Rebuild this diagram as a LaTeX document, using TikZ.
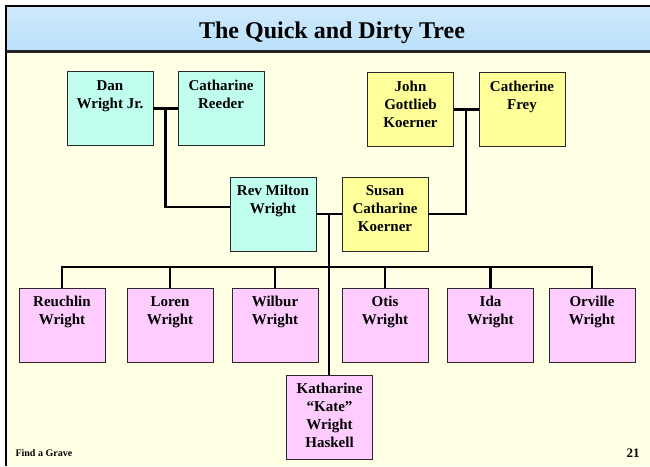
\documentclass[tikz,border=0pt]{standalone}
\usepackage{fontspec}
\setmainfont{Liberation Serif}
\usetikzlibrary{calc}

\definecolor{bgyellow}{RGB}{255,255,229}
\definecolor{hdblue}{RGB}{186,224,250}
\definecolor{wrightcyan}{RGB}{192,255,238}
\definecolor{koeryellow}{RGB}{255,255,153}
\definecolor{kidpink}{RGB}{255,204,255}
\definecolor{boxline}{RGB}{40,40,40}

\newcommand{\boxtext}[2][62pt]{\parbox[t][#1][t]{84pt}{\centering\strut #2}}

\begin{document}
\begin{tikzpicture}[x=1pt,y=-1pt,
   person/.style={draw=boxline,line width=0.8pt,minimum width=86pt,minimum height=74pt,inner sep=0pt,
      font=\fontsize{15}{18}\selectfont\bfseries},
   link/.style={line width=2.3pt,black}]
   \useasboundingbox (0,0) rectangle (650,466);
   % slide background
   \fill[bgyellow] (6,51) rectangle (650,466);
   \shade[top color=hdblue!70,middle color=white,bottom color=hdblue] (6,6) rectangle (650,51);
   \draw[line width=2.5pt] (4.75,6) -- (650,6);
   \draw[line width=2.5pt] (6,4.75) -- (6,466);
   \draw[line width=2.7pt,black!85] (6,51.5) -- (650,51.5);
   \node[anchor=base,font=\fontsize{24}{28}\selectfont\bfseries] (title) at (332,38) {The Quick and Dirty Tree};
   % grandparents
   \node[person,fill=wrightcyan] (dan) at (110,108.5) {\boxtext{Dan\\Wright Jr.}};
   \node[person,fill=wrightcyan] (cath) at (221,108.5) {\boxtext{Catharine\\Reeder}};
   \node[person,fill=koeryellow] (john) at (410.5,109.5) {\boxtext{John\\Gottlieb\\Koerner}};
   \node[person,fill=koeryellow] (frey) at (522,109.5) {\boxtext{Catherine\\Frey}};
   % parents
   \node[person,fill=wrightcyan] (milton) at (273,214) {\boxtext{Rev Milton\\Wright}};
   \node[person,fill=koeryellow] (susan) at (385,214) {\boxtext{Susan\\Catharine\\Koerner}};
   % children
   \node[person,fill=kidpink] (reuchlin) at (62,325) {\boxtext{Reuchlin\\Wright}};
   \node[person,fill=kidpink] (loren) at (170,325) {\boxtext{Loren\\Wright}};
   \node[person,fill=kidpink] (wilbur) at (275,325) {\boxtext{Wilbur\\Wright}};
   \node[person,fill=kidpink] (otis) at (385,325) {\boxtext{Otis\\Wright}};
   \node[person,fill=kidpink] (ida) at (490.5,325) {\boxtext{Ida\\Wright}};
   \node[person,fill=kidpink] (orville) at (592,325) {\boxtext{Orville\\Wright}};
   \node[person,fill=kidpink,minimum height=84pt] (kate) at (329.5,417) {\boxtext[72pt]{Katharine\\``Kate''\\Wright\\Haskell}};
   % marriages and descent
   \draw[link] (dan) -- (cath);
   \coordinate (dc) at ($(dan.east)!0.5!(cath.west)$);
   \draw[link] (dc) |- ([yshift=7pt]milton.west);
   \draw[link] (john) -- (frey);
   \coordinate (jf) at ($(john.east)!0.5!(frey.west)$);
   \draw[link] (jf) |- (susan.east);
   \draw[link] (milton) -- (susan);
   \coordinate (ms) at ($(milton.east)!0.5!(susan.west)$);
   \draw[link] (ms) -- (ms |- kate.north);
   \coordinate (bar) at (0,267);
   \draw[link] (reuchlin.north) -- (reuchlin.north |- bar) -- (orville.north |- bar) -- (orville.north);
   \foreach \kid in {loren,wilbur,otis,ida}
      \draw[link] (\kid.north) -- (\kid.north |- bar);
   % footer
   \node[anchor=base west,font=\fontsize{10}{12}\selectfont\bfseries] (source) at (12,456) {Find a Grave};
   \node[anchor=base,font=\fontsize{13}{15}\selectfont\bfseries] (page) at (633,457) {21};
\end{tikzpicture}
\end{document}
